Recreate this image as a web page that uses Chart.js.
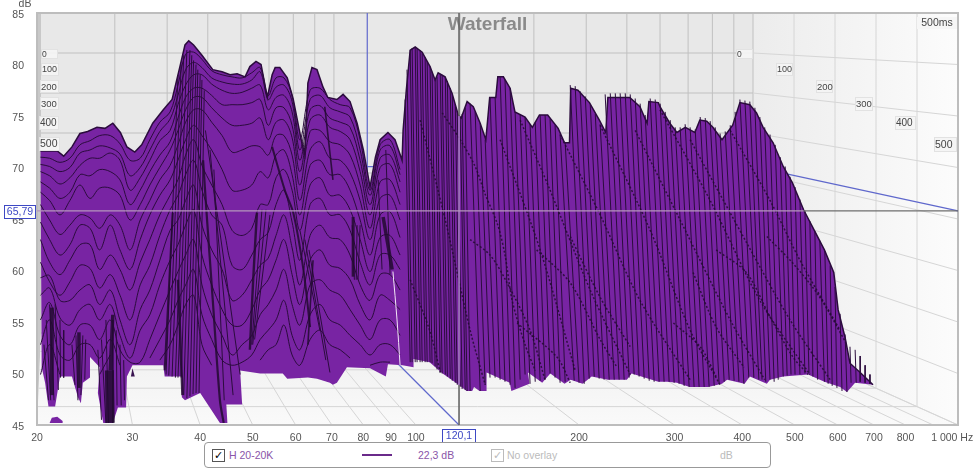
<!DOCTYPE html>
<html>
<head>
<meta charset="utf-8">
<script src="https://cdn.jsdelivr.net/npm/chart.js@4"></script>
<style>
body { margin: 0; background: #fff; font-family: "Liberation Sans", Arial, sans-serif; }
#wrap { position: relative; width: 975px; height: 469px; overflow: hidden; }
canvas { position: absolute; left: 0; top: 0; filter: blur(0.35px); }
#legend { position: absolute; left: 204px; top: 442px; width: 565px; height: 24px; border: 1px solid #999; border-radius: 4px; background: #fff; font-size: 10.5px; }
#legend span { position: absolute; top: 6px; white-space: nowrap; }
#legend .box { top: 6px; width: 11px; height: 11px; border: 1px solid #555; font: 11px/11px "DejaVu Sans"; text-align: center; }
</style>
</head>
<body>
<div id="wrap">
  <canvas id="myChart" width="975" height="469"></canvas>
  <div id="legend">
    <span class="box" style="left:7px">✓</span>
    <span style="left:24px;color:#8a55a8">H 20-20K</span>
    <span style="left:157px;top:11px;width:30px;height:2px;background:#6a2a8a"></span>
    <span style="left:213px;color:#8a55a8">22,3 dB</span>
    <span class="box" style="left:286px;border-color:#bbb;color:#bbb">✓</span>
    <span style="left:302px;color:#bbb">No overlay</span>
    <span style="left:515px;color:#bbb">dB</span>
  </div>
</div>
<script>
var freqTicks = [20, 30, 40, 50, 60, 70, 80, 90, 100, 200, 300, 400, 500, 600, 700, 800, 1000];
var backGridFreq = [30, 40, 50, 60, 70, 80, 90, 100, 200, 300, 400, 500, 600, 700, 800, 900];
var dbTicks = [45, 50, 55, 60, 65, 70, 75, 80, 85];
var timeLabels = ["0", "100", "200", "300", "400", "500"];
var cursorFreq = 120.1;
var cursorDb = 65.79;

// outer shape of the waterfall, top edge left to right
var topFreq = [20.3,21.8,22.4,23.2,24,24.8,25.8,26.7,27.6,28.5,29.3,30.3,31.2,32.7,34.2,35.5,36.7,37.5,38.1,38.9,40.3,42.2,43.9,45.4,46.8,48.4,49.4,50.7,51.8,53.2,54.3,55,56.1,57.9,59.4,61.6,62.4,63.2,64.3,65.7,67.4,68.8,71.5,73.4,75.6,77.9,80,82.3,84.2,85.9,88.8,91.5,94.3,94.7,96,97.6,99.7,102.7,106.2,108.5,109.9,113.2,116.6,119.7,121.2,124.3,127.6,131.4,134.6,136.8,140.4,141.6,145,149.2,152.3,159,164,169,175,183,188,192,193,199,209,218,224,226,235,248,259,267,269,280,282,294,303,314,327,334,344,353,367,384,396,413,425,437,456,476,495,519,542,567,590,601,619,632,660,697];
var topDb = [71.6,71.6,71.1,72,73.3,73.5,73.9,73.8,74.3,73.4,72,71.5,72.2,74.3,75.6,76.6,79.8,81.9,82.3,81.9,80.9,79.5,79.3,79,79.1,78.8,79.8,80.3,80,76.8,79,79.7,79.7,78.7,76.6,72.4,71.2,78.2,79.7,79.5,77.8,76.8,76.6,77.1,76.4,74.3,71.7,68.1,71,72.7,73.4,72.7,70.7,73.6,77.5,81.4,81.7,81.2,79.8,78.5,79.2,78.8,77.2,75.1,74.8,76.4,75.9,74.3,72.7,76.8,76.8,78.8,78.8,77.7,75.4,74.9,73.9,75.1,75.1,73.8,72.4,72.4,77.7,77.5,76.3,74.6,73.4,76.8,76.8,76.8,75.9,74.3,76.4,76.3,75.9,74.3,73.4,73.9,73.4,74.6,74.5,73.9,72.7,74.1,76.3,76.1,75.3,73.9,72.4,70.1,68.5,65.9,64,62,59.8,56.2,53.5,51,50.1,48.9];
// bottom edge, right to left
var bottomFreq = [646,624,606,567,529,476,450,444,413,404,375,367,346,320,303,291,280,250,245,226,211,203,193,188,177,171,161,162,150,149,135,135,131,128,127,124,120,112,106,99,99,94.5,88.8,88,82.3,74.6,71.5,70.3,69.4,65.7,63.2,57.9,56.8,51.6,47.4,47.8,44.7,44.9,43.5,40,37.5,37,37,34.4,34.2,30,29.3,29.2,28.2,27.6,26.5,25.9,26.1,25.05,25.05,24.3,24.1,23.8,23.2,22.05,21.6,21,20.7,20.4];
var bottomDb = [49.1,48.2,48.7,49.2,49.9,49.7,49.4,49,49.7,49,49.4,49,48.7,48.7,49.1,49.2,49.2,50,49.4,49.4,49.7,49,49.4,49,50,49.1,50.1,49,48.3,49.1,50.1,48.3,48.3,48.7,48.3,48.3,48.9,50,51.1,51.4,50.6,50.8,50.9,49.7,50.5,50.6,49.1,48.9,49.1,49.5,49.6,49.5,50,50,50.3,47,47,45.2,45.2,48.1,47.4,47.7,49.7,49.7,50.8,50.8,49.7,46.7,46.7,45.2,45.2,48.1,50.6,51.6,49.6,49.1,47.1,47.7,49.7,49.7,46.8,46.8,49.1,50.6];
var islandFreq = [21.1,21.3,21.8,22.3,22.3];
var islandDb = [45.2,45.7,45.8,45.4,45.2];
var chipFreq = [29.8,30,30.3];
var chipDb = [49.7,50.5,49.7];

// decay slices read at shared frequencies, below 100 Hz
var sliceFreq = [20.3,21.1,22.05,23,24,25.05,26.1,27.3,28.45,29.7,31,32.3,33.7,35.2,36.4,37.6,38.9,40.3,42,43.9,45.8,47.8,49.8,51.6,53.4,55.2,57.1,59.1,61.1,63.8,66.5,69.4,72.5,75.6,78.9,82.3,85.9,89.6,93.5];
var slice1 = [71,70.9,70.5,70.9,72.2,72.6,73.1,73.1,72.3,70.7,70.9,72.7,74.4,75.4,78,81,81.2,80.5,79.4,79,78.8,78.7,79.2,79.7,77,78.7,78.7,77,72.7,77.5,77.7,76.6,76.1,75.8,72.7,67.8,72.2,72.7,69.8];
var slice2 = [70.3,70.1,69.6,70,71.4,71.7,72.1,71.9,71.3,69.2,70,71.7,73.5,74.7,77,79.5,80.2,79.7,78.7,78.3,78.1,78.1,78.5,79.3,76.6,77.8,78,76.4,71.7,76.6,77,75.8,75.4,74.9,71.7,67.3,71.7,72.1,69.3];
var slice3 = [69.6,69.2,68.4,69,70.2,70.9,70.9,71.4,70.7,67.8,69,70.7,72.6,73.6,76.1,78,79,79,78.1,77.5,77.2,77.3,77.7,78,75.6,76.8,77,75.4,70.7,75.6,76,74.8,74.4,73.9,70.7,66.4,70.9,71.2,68.6];
var slice4 = [68.6,68,67,67.6,69.3,69.2,69.8,69.6,68.8,66.4,67.8,69.6,71.2,72.5,74.8,76.8,77.7,77.7,77,76.1,76.1,76.1,76.3,76.6,74.1,75.8,75.8,74.1,69.6,74.6,75.1,73.9,73.5,72.7,69.6,65.4,70,70.3,67.6];
var slice5 = [67.6,66.8,65.4,66.8,68.3,67,68,68,67.3,64.9,66.4,68.3,70,71.7,73.6,75.6,76.8,76.8,75.8,74.8,74.1,74.1,74.3,74.8,72.7,74.4,74.6,72.9,68.3,73.5,73.6,72.5,72.2,71.2,68.3,64.1,68.6,68.8,66.4];
var slice6 = [66.4,64.9,63.5,64.4,65.4,65.1,64.1,65.4,64.4,62,64.9,66.8,68.8,70.2,72.2,74.4,75.6,75.6,74.4,73.1,71.5,71.7,72.1,72,71.2,73.1,73.1,71.2,66.8,71.7,72.5,70.9,70.7,69.5,66.8,63,67,67.3,64.9];
var slice7 = [64.7,63,61.5,62.5,64.4,64.1,62,64.4,62,60.1,63,65.4,67.3,68.8,70.7,72.7,74.1,73.1,71.7,69.8,67.8,67.8,68.3,69.6,69,71.2,71.7,69.3,65.4,70.2,70.7,69.3,69.3,67.8,64.9,61.5,65.4,65.7,63.2];
var slice8 = [63,60.8,59.6,61,62.5,62.5,60.1,61.5,60.1,58.1,60.8,63,65.4,67.3,68.8,71.2,72.7,70.2,68.3,66.4,63.9,63.4,64.1,66.4,66.4,69,69.8,67.8,63.9,68.3,69,67.3,67.3,65.9,63,59.9,63.2,63.4,61.5];
var slice9 = [60.8,58.9,57.6,58.9,60.5,60.2,58.3,59.6,57.6,55.2,58.6,60.5,63.4,65.9,67.3,69.3,70.7,67.8,65.4,64.4,60.5,60.1,61.5,63,63.7,66.4,67.8,64.7,61,66.4,67,65.4,65.4,63.9,60.8,58.6,61.5,61.5,60.1];
var slice10 = [59.3,59.5,57.1,57.1,58.1,58.6,56.7,58.1,55.2,52.8,56.2,58.1,61,63.9,64.9,66.8,68.3,64.4,62,60.1,57.1,57.6,59.1,60.5,61.2,63.4,65.4,62.2,58.6,63.4,64.4,63.2,63,61.5,58.6,57.1,59.6,59.6,58.1];
var slice11 = [57.6,58.3,55.4,54.7,56.2,56.7,55.2,56.7,53.7,51.5,54.2,55.7,58.6,61,62.5,64.4,65.9,61.5,58.6,56.2,54.7,54.7,56.2,58.1,59.1,61,63,59.6,56.7,61,62,60.5,60.2,59.1,56.7,55.2,57.6,57.1,56.2];
var slice12 = [55.2,56.9,53.7,52.8,54.7,54.7,53.3,55.2,52.3,51.1,51.1,53.3,55.7,58.1,59.9,61.5,63,58.6,55.7,53.7,51.8,52.8,53.7,55.7,56.7,58.1,60.1,56.7,54.7,58.6,59.1,58.1,57.6,56.2,54.7,53.3,55.2,55.2,53.7];
var slice13 = [52.8,55.2,51.8,51.3,52.8,52.8,51.5,53.3,50.8,null,null,51.5,53.3,55.2,57.1,58.6,60.1,55.7,53.3,51.3,50.8,51.1,51.8,53.3,54.2,55.2,57.1,53.7,52.3,55.7,56.7,55.2,54.7,53.7,52.8,51.8,52.8,52.8,51.8];
var slice14 = [49.9,52.8,49.9,null,50.8,null,49.9,51.8,null,null,null,null,51.3,52.8,54.7,56.7,57.6,52.8,50.8,null,null,null,null,51.3,52.3,52.8,54.7,51.8,50.8,53.3,54.2,52.8,52.3,51.5,null,50.8,51.1,51.1,null];

// steep flanks below 100 Hz: top and base of each stroke
var fanFreqTop = [36.4,36.9,37.3,37.8,38.3,38.6,38.9,39.3,39.6,40,40.3,40.7,40.9,41.7,42.4,52,52.9,53.8,61.1,62.4,63.5,20.6,20.8,21.1,21.6,22.05,22.4,23.2,23.6,24.3,24.6,25.9,26.3,26.8,27.6,28,28.45,28.9,85.2,88,76.3,77.9,78.9];
var fanDbTop = [79,80,80.9,81.4,81.4,80.9,80.4,80,79.5,79,78.5,77.5,73.6,71.7,69.8,65.9,65.9,65.4,63.9,63,62,52.8,55.2,56.7,56.7,55.2,54.2,52.8,53.7,53.7,53.3,52.3,53.3,55.2,55.2,54.2,52.8,51.3,68.8,71.7,64.4,64.4,64.4];
var fanFreqBase = [34.6,35,35.5,36,36.4,36.9,37.3,37.8,38.3,38.8,39.3,39.8,47.4,46,44.3,49.8,50,50.4,66.5,68.2,69.4,21,21.2,21.5,21.9,22.1,22.4,23.5,23.8,24.1,24.5,26.3,26.8,27.1,27.6,28.1,28.6,29,86.6,89.6,77,77.6,78.2];
var fanDbBase = [49.9,49.8,49.7,49.6,49.6,49.6,47.9,47.6,47.8,48,48.1,48.1,49.9,47.9,47.4,52.8,52.8,53.3,54.2,51.3,50.1,47.4,47.4,47.4,48.4,49.6,49.6,48.9,47.4,47.9,49.4,45.5,45.2,45.2,45.2,46.9,46.9,47.4,60.1,59.6,59.1,59.1,59.1];

// dark spines where many slices pile up
var spineFreq = [[40.5,41.1,42.2,43.5,44.2],[50.9,50.1,49.4],[54.3,57.3,59.4,62,63.8],[64.6,63.2],[67.9,70.3],[76.6,76.6],[87,90.4],[21.3,21.3],[23.9,23.9],[27.6,27.3],[27.2,27.3],[35.6,34.4],[36.4,37.1]];
var spineDb = [[70.7,65.6,57.1,47.4,45.2],[65.6,59.1,52.3],[72,67.8,65.6,60.1,54.5],[61,52.8],[75.9,68.8],[65.2,59.4],[65.2,60.1],[56.4,47.9],[54,48.6],[55.7,50.3],[50.3,45.2],[65.6,50.3],[59.1,47.9]];
var spineWeight = [2.2,2.4,2,1.6,1.6,3,3.5,4,3.5,3.5,9,2,2.5];

// comb of narrow ridges above 100 Hz
var ridgeFreqTop = [95.5,97.6,99.7,101.8,104,106.2,108.5,110.9,113.3,115.7,118.2,120.7,123.3,125.9,128.6,131.4,134.2,137,140,143,146,149.2,152.4,155.7,159,162.4,166,169.5,173.1,176.8,180.6,184.5,188.5,192.6,196.7,200.9,205.3,209.7,214.2,218.7,223.4,228.3,233.2,238.1,243.3,248.5,253.8,259.2,264.8,270.5,276.3,282.2,288.3,294.5,300.8,307.2,313.8,320.5,327.5,334.5,341.7,349,356.5,364,372,380,388,396,404.5,413,422,431,440,450,460,470,480,490,500.5,511,522,533,544.5,556,568,581,593,606,619,632,646,660,674,688,96.3,98.4,100.5,102.7,104.9,107.1,109.4,111.8,114.3,116.7,119.2,121.7];
var ridgeDbTop = [76.6,81.4,81.7,81.4,80.7,79.8,78.5,79.1,78.8,77.7,76.1,74.9,75.8,76.2,75.4,74.3,72.7,76.8,76.8,78.8,78.5,77.7,75.4,75.1,74.9,74.2,74.4,75.1,75.1,74.7,74.1,73.2,72.4,78,77.9,77.4,76.9,76.1,75.2,74.2,77.1,77.2,77.2,77.2,77.2,77.1,76.7,76.2,75.1,76.7,76.6,76.2,75.4,74.6,73.9,73.9,74.2,73.9,73.7,74.9,74.8,74.5,73.9,73.3,73.5,74.1,75.4,76.6,76.5,76.4,75.8,74.9,73.9,73.2,72.2,71,70.1,69.1,68.1,66.9,65.8,64.8,63.8,62.9,61.9,60.5,58.4,55.8,53.8,52.6,52.3,51.7,50.8,49.9,79.5,81.6,81.6,81.1,80.3,79.3,78.8,79,78.4,77.1,75.5,75.2];
var ridgeFreqBase = [97.6,99.7,101.8,104,106.2,108.5,110.9,113.3,115.7,118.2,120.7,123.3,125.9,131.4,134.2,137,140,143,146,149.2,152.4,155.7,159,162.4,166,169.5,173.1,176.8,180.6,184.5,188.5,195.9,200,204.4,208.8,213.3,217.8,222.4,227.3,232.2,237.1,242.2,247.4,252.7,258.1,263.7,269.4,275.1,281,287,293.2,299.5,305.9,312.5,319.2,326,333,340.2,347.5,355,362.5,370.4,378.4,386.4,394.4,402.8,411.3,420.2,429.2,435,442,450,458,466,476,484,492,500.5,511,522,531,540,551,567,576,586,598,611,624,635,649,660,674,688,98.4,100.5,102.7,104.9,107.1,109.4,111.8,114.3,116.7,119.2,121.7,124.3];
var ridgeDbBase = [51.1,51.1,51.1,51.1,51.1,50.7,50.1,49.9,49.5,49.1,48.7,48.4,48.3,48.3,48.9,49.6,49.6,49.4,49.2,48.9,48.6,49.4,49.9,49,49.2,49.3,49.4,50,49.6,49.1,49.2,49.3,49.1,49,49.5,49.7,49.5,49.4,49.4,49.4,49.4,49.4,49.6,49.9,49.7,49.5,49.3,49.2,49.2,49.2,49.2,49.1,49,48.8,48.7,48.7,48.7,48.7,48.7,48.8,49,49.2,49.4,49.3,49.2,49,49.6,49.6,49.4,49.4,49.2,49.4,49.2,49.4,49.7,49.8,49.9,49.9,49.9,50,50,49.7,49.4,49.2,49,48.8,48.6,48.3,48.2,49.1,49.1,49.2,49.1,49,51.1,51.1,51.1,51.1,51,50.4,50,49.7,49.3,48.9,48.5,48.3];

// diagonal dark bands crossing the comb
var bandFreq = [[111.8,120.7,128.6,134,141.6,146,150.5,159,166],[125.9,137,147.3,162.4,173],[153.7,182,192.6],[167,192.6,218.7,235],[192.6,218.7,248.5],[155.7,176.8,209.7,248.5],[184.5,218.7,259,320.5],[218.7,270.5,320.5,364],[282,349,431,533],[380,450,511,606],[358,407,450,496,529],[324.5,358,403],[298.5,334.5,358],[444,496,556,621],[97.6,106,110.9],[143,169.5,196.7],[253.8,307.2,380,440],[320.5,404.5,490,581],[101.8,113.3,125.9,134.2]];
var bandDb = [[75.3,72.7,70.1,67.5,64.4,61.5,57.1,52.8,50.3],[63,61.5,58.8,54.2,49.4],[54.9,51.6,49.1],[62,58.8,53.3,50.6],[63.3,57.4,52.6],[74.6,67.8,58.1,49.9],[73.2,65.4,57.1,49.4],[74.1,63.9,54.2,48.9],[75.6,66.8,57.1,49.9],[73.6,66.8,61,54.2],[62,59.8,55.5,51.6,49.9],[59.8,54.5,50.6],[54.9,52.6,49.7],[63.3,60.7,57.4,53],[59.1,54.2,50.1],[72.7,62,50.3],[73.6,64.9,55.2,49.4],[72.7,63,55.2,49.4],[74.6,64.9,54.2,48.9]];

var traceFreq = [90.7,92.3,93.5];
var traceDb = [59.9,55.2,50.8];

var purple = "#7824a3";
var ink = "#2b0c3d";

function pts(fs, ds) {
  var out = [];
  for (var i = 0; i < fs.length; i++) out.push({x: fs[i], y: ds[i]});
  return out;
}
function strokes(f1, d1, f2, d2) {
  var out = [];
  for (var i = 0; i < f1.length; i++) {
    out.push({x: f1[i], y: d1[i]}, {x: f2[i], y: d2[i]}, {x: f2[i], y: null});
  }
  return out;
}
function line(data, color, width, order, extra) {
  return Object.assign({data: data, showLine: true, pointRadius: 0, borderColor: color, borderWidth: width, backgroundColor: color, order: order, fill: false, tension: 0}, extra || {});
}

var datasets = [];
var shape = {fill: "shape", backgroundColor: purple};
datasets.push(line(pts(topFreq.concat(bottomFreq), topDb.concat(bottomDb)), purple, 0, 100, shape));
datasets.push(line(pts(islandFreq, islandDb), purple, 0, 100, shape));
datasets.push(line(pts(chipFreq, chipDb), "#3a1450", 0, 100, {fill: "shape", backgroundColor: "#3a1450"}));
[slice1, slice2, slice3, slice4, slice5, slice6, slice7, slice8, slice9, slice10, slice11, slice12, slice13, slice14].forEach(function (s) {
  datasets.push(line(pts(sliceFreq, s), ink, 1, 60, {tension: 0.35}));
});
datasets.push(line(strokes(fanFreqTop, fanDbTop, fanFreqBase, fanDbBase), ink, 1, 55));
datasets.push(line(strokes(ridgeFreqTop, ridgeDbTop, ridgeFreqBase, ridgeDbBase), ink, 1, 50));
bandFreq.forEach(function (f, i) {
  datasets.push(line(pts(f, bandDb[i]), "rgba(34,10,48,0.85)", 1.5, 45, {borderDash: [2, 2], tension: 0.3}));
});
spineFreq.forEach(function (f, i) {
  datasets.push(line(pts(f, spineDb[i]), "rgba(34,10,48,0.85)", spineWeight[i], 40, {tension: 0.3}));
});
datasets.push(line(pts(topFreq, topDb), ink, 1.5, 35));
datasets.push(line(pts(traceFreq, traceDb), "#f3e6f7", 1, 30, {tension: 0.3}));
// cursor lines change tint over the waterfall
datasets.push(line([{x: 20, y: cursorDb}, {x: 519, y: cursorDb}], "#b596bd", 1.4, 5));
datasets.push(line([{x: 519, y: cursorDb}, {x: 1000, y: cursorDb}], "#6e6e6e", 1.4, 5));
datasets.push(line([{x: cursorFreq, y: 85}, {x: cursorFreq, y: 75}], "#666666", 1.6, 5));
datasets.push(line([{x: cursorFreq, y: 75}, {x: cursorFreq, y: 48.9}], "#a77cc4", 1.6, 5));
datasets.push(line([{x: cursorFreq, y: 48.9}, {x: cursorFreq, y: 45}], "#666666", 1.6, 5));

function seg(ctx, x1, y1, x2, y2) {
  ctx.beginPath(); ctx.moveTo(x1, y1); ctx.lineTo(x2, y2); ctx.stroke();
}
function poly(ctx, p, fill) {
  ctx.beginPath(); ctx.moveTo(p[0], p[1]);
  for (var i = 2; i < p.length; i += 2) ctx.lineTo(p[i], p[i + 1]);
  ctx.closePath(); ctx.fillStyle = fill; ctx.fill();
}

// the 3D room behind the waterfall, hung on the front axes
var room = {
  id: "room",
  afterLayout: function (chart) {
    // centre the title on the whole window, not the padded box
    chart.titleBlock.left = 17;
  },
  beforeDraw: function (chart) {
    var c = chart.ctx, xs = chart.scales.x, ys = chart.scales.y, a = chart.chartArea;
    var L = a.left, R = a.right, T = a.top, B = a.bottom;
    var bL = L + 4, bR = 753, bB = 333;
    var bx = function (f) { return bL + (xs.getPixelForValue(f) - L) * (bR - bL) / (R - L); };
    var by = function (d) { return T + (ys.getPixelForValue(d) - T) * (bB - T) / (B - T); };
    c.save();
    poly(c, [bL, T, bR, T, bR, bB, bL, bB], "#e8e8e8");
    var g = c.createLinearGradient(bR, 0, R, 0); g.addColorStop(0, "#ececec"); g.addColorStop(1, "#fcfcfc");
    poly(c, [bR, T, R, T, R, B, bR, bB], g);
    g = c.createLinearGradient(0, bB, 0, B); g.addColorStop(0, "#eeeeee"); g.addColorStop(1, "#fafafa");
    poly(c, [bL, bB, bR, bB, R, B, L, B], g);
    poly(c, [L, T, bL, T, bL, bB, L, B], "#c8c8c8");
    c.lineWidth = 1;
    c.strokeStyle = "#c0c0c0";
    backGridFreq.forEach(function (f) { seg(c, bx(f), T, bx(f), bB); });
    dbTicks.forEach(function (d) { seg(c, bL, by(d), bR, by(d)); });
    seg(c, bR, T, bR, bB);
    c.strokeStyle = "#d6d6d6";
    dbTicks.forEach(function (d) { seg(c, bR, by(d), R, ys.getPixelForValue(d)); });
    backGridFreq.concat([1000]).forEach(function (f) { seg(c, bx(f), bB, xs.getPixelForValue(f), B); });
    for (var k = 1; k < 5; k++) {
      var wx = bR + (R - bR) * k / 5, wy = bB + (B - bB) * k / 5;
      seg(c, wx, T, wx, wy);
      seg(c, bL + (L - bL) * k / 5, wy, wx, wy);
    }
    c.lineWidth = 2; c.strokeStyle = "#bdbdbd";
    c.strokeRect(L, T, R - L, B - T);
    // blue cursor tracks on the walls and floor
    c.lineWidth = 1.2; c.strokeStyle = "#5f68cc";
    seg(c, bx(cursorFreq), T, bx(cursorFreq), bB);
    seg(c, bx(cursorFreq), bB, xs.getPixelForValue(cursorFreq), B);
    seg(c, bL, by(cursorDb), bR, by(cursorDb));
    seg(c, bR, by(cursorDb), R, ys.getPixelForValue(cursorDb));
    c.restore();
  },
  afterDraw: function (chart) {
    var c = chart.ctx;
    c.save();
    var leftBoxes = [[41,49,17,10],[41,63,18,13],[40,80,19,13],[40,97,19,13],[39,116,20,14],[39,137,21,14]];
    var rightBoxes = [[736,49,17,10],[776,63,17,13],[816,80,17,13],[855,97,18,14],[895,116,21,14],[934,137,23,15]];
    var sizes = [8.5, 9, 9.5, 9.5, 10, 10.5];
    c.textBaseline = "middle";
    [leftBoxes, rightBoxes].forEach(function (set) {
      set.forEach(function (b, i) {
        c.fillStyle = "rgba(244,244,244,0.92)"; c.fillRect(b[0], b[1], b[2], b[3]);
        c.strokeStyle = "#e2e2e2"; c.lineWidth = 1; c.strokeRect(b[0] + 0.5, b[1] + 0.5, b[2] - 1, b[3] - 1);
        c.fillStyle = "#444"; c.textAlign = "left";
        c.font = sizes[i] + "px 'Liberation Sans'";
        c.fillText(timeLabels[i], b[0] + 1, b[1] + b[3] / 2 + 0.5);
      });
    });
    c.font = "10.5px 'Liberation Sans'"; c.textAlign = "center";
    c.fillStyle = "#f6f6f6"; c.fillRect(917, 17, 40, 12);
    c.fillStyle = "#444"; c.fillText("500ms", 937, 23);
    c.fillStyle = "#555"; c.fillText("dB", 25, 4);
    // cursor readouts
    var lab = [["65,79", 4, 205, 31, 13], ["120,1", 442, 429, 33, 13]];
    lab.forEach(function (l) {
      c.fillStyle = "#fff"; c.fillRect(l[1], l[2], l[3], l[4]);
      c.strokeStyle = "#3d48c4"; c.lineWidth = 1; c.strokeRect(l[1] + 0.5, l[2] + 0.5, l[3], l[4]);
      c.fillStyle = "#3d48c4"; c.fillText(l[0], l[1] + l[3] / 2 + 0.5, l[2] + l[4] / 2 + 1);
    });
    c.restore();
  }
};

var ctx = document.getElementById("myChart");
var chart = new Chart(ctx, {
  type: "scatter",
  data: {datasets: datasets},
  plugins: [room],
  options: {
    responsive: false,
    animation: false,
    events: [],
    layout: {padding: {top: 13, right: 17, left: 0, bottom: 0}},
    plugins: {
      legend: {display: false},
      tooltip: {enabled: false},
      title: {display: true, text: "Waterfall", color: "#8a8a8a", font: {family: "'Liberation Sans'", size: 19, weight: "bold"}, padding: {top: 0, bottom: -22.8}}
    },
    scales: {
      x: {
        type: "logarithmic", min: 20, max: 1000,
        grid: {display: false}, border: {display: false},
        ticks: {autoSkip: false, maxRotation: 0, padding: -1, color: "#555", font: {family: "'Liberation Sans'", size: 10.5},
          callback: function (v) { return v === 1000 ? "1 000 Hz    " : String(v); }},
        afterBuildTicks: function (s) { s.ticks = freqTicks.map(function (v) { return {value: v}; }); },
        afterFit: function (s) { s.height = 44; s.paddingLeft = 0; s.paddingRight = 0; }
      },
      y: {
        type: "linear", min: 45, max: 85,
        grid: {display: false}, border: {display: false},
        ticks: {padding: 5, labelOffset: 2, color: "#555", font: {family: "'Liberation Sans'", size: 10.5}},
        afterBuildTicks: function (s) { s.ticks = dbTicks.map(function (v) { return {value: v}; }); },
        afterFit: function (s) { s.width = 37; s.paddingTop = 0; s.paddingBottom = 0; }
      }
    }
  }
});
</script>
</body>
</html>
